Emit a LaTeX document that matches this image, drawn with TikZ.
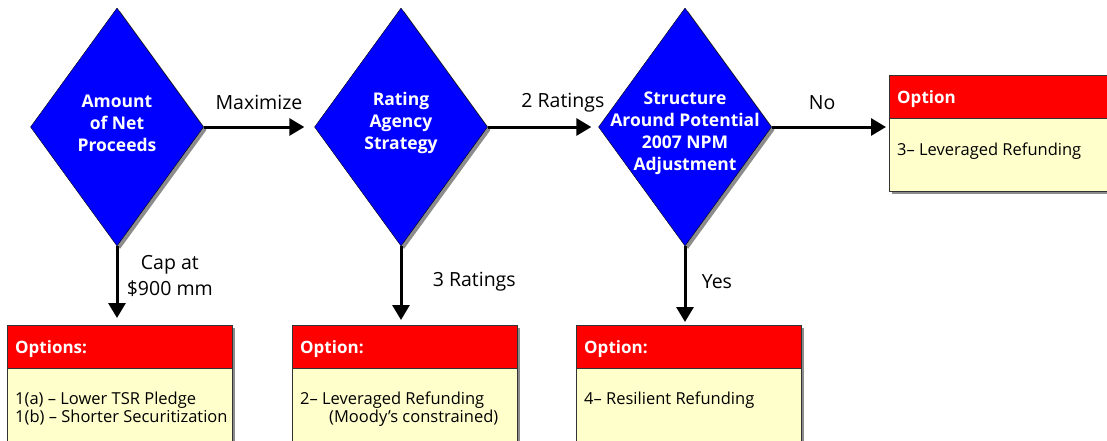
\documentclass[tikz,border=0pt]{standalone}
\usepackage{fontspec}
\setmainfont{Open Sans}
\usetikzlibrary{shapes.geometric,arrows.meta,shadows,positioning}
\definecolor{dblue}{RGB}{0,0,255}
\definecolor{hred}{RGB}{255,0,0}
\definecolor{byellow}{RGB}{255,255,204}

\begin{document}
\begin{tikzpicture}[x=1pt,y=-1pt, line join=round, >={Triangle[length=15pt,width=17pt]},
    decision/.style={diamond, draw=black, fill=dblue, minimum width=173pt, minimum height=238pt,
      inner sep=0pt, drop shadow={shadow xshift=3pt,shadow yshift=-3pt,fill=black!45,opacity=1}},
    dtext/.style={align=center, text=white, font=\fontsize{17.5}{22}\selectfont\bfseries},
    optbody/.style={rectangle, draw=black!80, fill=byellow, minimum width=225pt, inner sep=0pt,
      anchor=north west, drop shadow={shadow xshift=3pt,shadow yshift=-3pt,fill=black!45,opacity=1}},
    opthead/.style={rectangle, draw=black!80, fill=hred, text=white, text width=209pt, inner xsep=8pt,
      text depth=0pt, minimum height=43pt, anchor=north west, font=\fontsize{17}{20}\selectfont\bfseries},
    opttext/.style={anchor=north west, align=left, inner sep=0pt, font=\fontsize{16.5}{18}\selectfont},
    lbl/.style={font=\fontsize{19.5}{26}\selectfont, align=center},
    conn/.style={->, line width=3pt}]
  \clip (0,0) rectangle (1107,440);
  % decisions
  \node[decision] (d1) at (117,127) {};
  \node[decision] (d2) at (401,127) {};
  \node[decision] (d3) at (685,127) {};
  \node[dtext] (d1t) at (117,123) {Amount\\of Net\\Proceeds};
  \node[dtext] (d2t) at (401,123) {Rating\\Agency\\Strategy};
  \node[dtext] (d3t) at (685,133) {Structure\\Around Potential\\2007 NPM\\Adjustment};
  % option boxes
  \node[optbody, minimum height=140pt] (o1) at (7,325) {};
  \node[optbody, minimum height=140pt] (o2) at (292,325) {};
  \node[optbody, minimum height=140pt] (o3) at (576,325) {};
  \node[optbody, minimum height=116pt] (o4) at (889,75) {};
  \node[opthead] (h1) at (o1.north west) {Options:};
  \node[opthead] (h2) at (o2.north west) {Option:};
  \node[opthead] (h3) at (o3.north west) {Option:};
  \node[opthead] (h4) at (o4.north west) {Option};
  \node[opttext] (t1) at ([xshift=8pt,yshift=-23pt]h1.south west) {1(a) -- Lower TSR Pledge\\1(b) -- Shorter Securitization};
  \node[opttext] (t2) at ([xshift=8pt,yshift=-23pt]h2.south west) {2-- Leveraged Refunding\\\hspace{29pt}(Moody’s constrained)};
  \node[opttext] (t3) at ([xshift=8pt,yshift=-23pt]h3.south west) {4-- Resilient Refunding};
  \node[opttext] (t4) at ([xshift=8pt,yshift=-24pt]h4.south west) {3-- Leveraged Refunding};
  % connectors
  \draw[conn, shorten >=10pt] (d1.east) -- node[lbl, above=12pt] {Maximize} (d2.west);
  \draw[conn, shorten >=7pt] (d2.east) -- node[lbl, above=10pt, pos=.68] {2 Ratings} (d3.west);
  \draw[conn, shorten >=3pt] (d3.east) -- node[lbl, above=12pt, pos=.43] {No} (o4.west |- d3.east);
  \draw[conn, shorten >=7pt] (d1.south) -- node[lbl, right=5pt, pos=.38] {Cap at\\\$900 mm} (o1.north -| d1.south);
  \draw[conn, shorten >=5pt] (d2.south) -- node[lbl, right=27pt, pos=.45] {3 Ratings} (o2.north -| d2.south);
  \draw[conn, shorten >=3pt] (d3.south) -- node[lbl, right=12pt, pos=.45] {Yes} (o3.north -| d3.south);
\end{tikzpicture}
\end{document}
